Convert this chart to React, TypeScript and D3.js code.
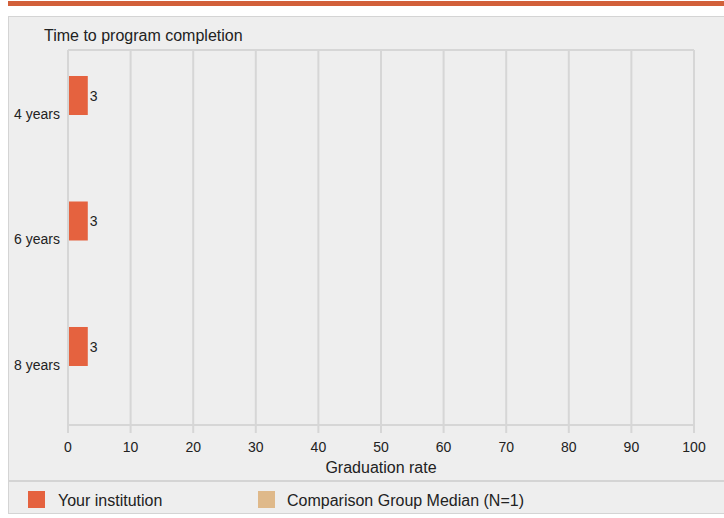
import React from "react";
import * as d3 from "d3";

const categories = ["4 years", "6 years", "8 years"];
const institutionValues = [3, 3, 3];
const comparisonValues: (number | null)[] = [null, null, null];
const xTicks = [0, 10, 20, 30, 40, 50, 60, 70, 80, 90, 100];
const seriesNames = ["Your institution", "Comparison Group Median (N=1)"];
const seriesColors = ["#e5623f", "#dfb98a"];

export default function App() {
  const W = 724, H = 518;
  const left = 68, right = 694, top = 50, bottom = 425;
  const x = d3.scaleLinear().domain([0, 100]).range([left, right]);
  const y = d3
    .scaleBand()
    .domain(categories)
    .range([top, bottom])
    .paddingInner(0.3785)
    .paddingOuter(0.1833)
    .align(0.565);
  const sub = d3.scaleBand().domain(["inst", "comp"]).range([0, y.bandwidth()]);
  const font = "Liberation Sans, Arial, sans-serif";
  return (
    <svg width={W} height={H} style={{ position: "absolute", left: 0, top: 0 }} fontFamily={font}>
      <rect x={0} y={0} width={W} height={H} fill="#ffffff" />
      <rect x={8} y={1} width={W - 8} height={5} fill="#d2603a" />
      <rect x={8.5} y={16.5} width={W} height={497} fill="#eeeeee" stroke="#d4d4d4" strokeWidth={1} />
      <line x1={8} x2={W} y1={481} y2={481} stroke="#d4d4d4" strokeWidth={2} />
      <text x={44} y={41} fontSize={16} fill="#222">Time to program completion</text>
      {xTicks.map((t) => (
        <g key={t}>
          <line x1={x(t)} x2={x(t)} y1={top} y2={bottom + 8} stroke="#d6d6d6" strokeWidth={2} />
          <text x={x(t)} y={452} fontSize={14} textAnchor="middle" fill="#222">{t}</text>
        </g>
      ))}
      <line x1={left} x2={right} y1={top} y2={top} stroke="#d6d6d6" strokeWidth={2} />
      <line x1={left} x2={right} y1={bottom} y2={bottom} stroke="#d6d6d6" strokeWidth={2} />
      <text x={(left + right) / 2} y={473} fontSize={16} textAnchor="middle" fill="#222">Graduation rate</text>
      {categories.map((c, i) => {
        const y0 = y(c)!;
        const v = institutionValues[i];
        const cv = comparisonValues[i];
        return (
          <g key={c}>
            <text x={60} y={y0 + y.bandwidth() / 2 + 4} fontSize={14} textAnchor="end" fill="#222">{c}</text>
            <rect x={x(0) + 1} y={y0 + sub("inst")!} width={x(v) - x(0)} height={sub.bandwidth()} fill={seriesColors[0]} />
            <text x={x(v) + 3} y={y0 + sub("inst")! + sub.bandwidth() / 2 + 5.5} fontSize={14} fill="#222">{v}</text>
            {cv != null && (
              <rect x={x(0) + 1} y={y0 + sub("comp")!} width={x(cv) - x(0)} height={sub.bandwidth()} fill={seriesColors[1]} />
            )}
          </g>
        );
      })}
      <rect x={28} y={491} width={17} height={17} fill={seriesColors[0]} />
      <text x={58} y={506} fontSize={16} fill="#222">{seriesNames[0]}</text>
      <rect x={258} y={491} width={17} height={17} fill={seriesColors[1]} />
      <text x={287} y={506} fontSize={16} fill="#222">{seriesNames[1]}</text>
    </svg>
  );
}
